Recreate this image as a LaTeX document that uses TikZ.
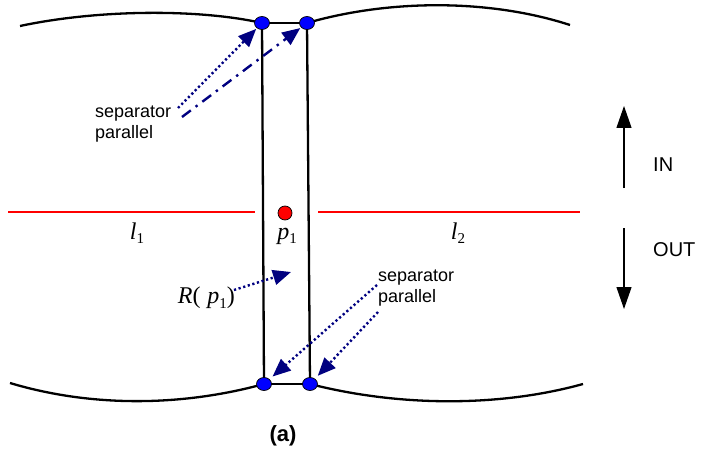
\documentclass[tikz,border=0pt]{standalone}
\usepackage{fontspec}
\setmainfont{Liberation Sans}
\newfontfamily\tnr{Liberation Serif}
\usetikzlibrary{arrows.meta,shapes.geometric}
\newcommand{\mvar}[2]{{\tnr\itshape #1}\raisebox{-0.35ex}{\tnr\fontsize{15}{15}\selectfont #2}}
\begin{document}
\begin{tikzpicture}[x=1pt,y=-1pt,
  edge/.style={line width=2.3pt,black},
  redline/.style={line width=2.3pt,red},
  bdot/.style={ellipse,draw=black,line width=0.7pt,fill=blue,minimum width=15pt,minimum height=13pt,inner sep=0pt},
  rdot/.style={circle,draw=black,line width=0.7pt,fill=red,minimum size=14pt,inner sep=0pt},
  navyarrow/.style={navy,line width=2.4pt,-{Triangle[length=18pt,width=15pt]}},
  dotline/.style={navyarrow,dash pattern=on 2.2pt off 2.6pt},
  dashdotline/.style={navyarrow,dash pattern=on 11pt off 6pt on 2.4pt off 6pt},
  lbl/.style={font=\fontsize{18}{21}\selectfont,align=left,inner sep=0pt},
  mlbl/.style={font=\fontsize{24}{26}\selectfont,inner sep=0pt},
  dirarrow/.style={black,line width=1.2pt,-{Triangle[length=22pt,width=15pt]}}
]
\definecolor{navy}{RGB}{0,0,128}
\useasboundingbox (0,0) rectangle (706,449);

% dot positions
\coordinate (tl) at (262,23);
\coordinate (tr) at (307,23);
\coordinate (bl) at (264,384);
\coordinate (br) at (310,384);

% boundary curves
\draw[edge] (20,26) .. controls (100,9) and (200,9) .. (tl);
\draw[edge] (tr) .. controls (390,-1) and (490,-1) .. (570,25);
\draw[edge] (10,383) .. controls (90,407) and (180,407) .. (bl);
\draw[edge] (br) .. controls (400,407) and (500,407) .. (583,384);

% rectangle
\draw[edge] (tl) -- (tr);
\draw[edge] (bl) -- (br);
\draw[edge] (tl) -- (bl);
\draw[edge] (tr) -- (br);

% red lines
\draw[redline] (8,212) -- (255,212);
\draw[redline] (318,212) -- (580,212);

% dots
\node[bdot] (tlD) at (tl) {};
\node[bdot] (trD) at (tr) {};
\node[bdot] (blD) at (bl) {};
\node[bdot] (brD) at (br) {};
\node[rdot] (p1dot) at (285,213) {};

% labels
\node[mlbl] (l1) at (137,233) {\mvar{l}{1}};
\node[mlbl] (l2) at (458,233) {\mvar{l}{2}};
\node[mlbl] (p1) at (287,236) {\mvar{p}{1}};
\node[mlbl,anchor=east] (Rp) at (235,298) {{\tnr\itshape R}{\tnr(} \mvar{p}{1}{\tnr)}};

\node[lbl,anchor=north west] (sepA) at (95,106) {separator\\parallel};
\node[lbl,anchor=north west] (sepB) at (378,270) {separator\\parallel};

\node[font=\fontsize{20}{22}\selectfont,anchor=west,inner sep=0pt] (in) at (653,165) {IN};
\node[font=\fontsize{20}{22}\selectfont,anchor=west,inner sep=0pt] (out) at (653,250) {OUT};
\node[font=\bfseries\fontsize{22}{24}\selectfont,inner sep=0pt] (a) at (283,436) {(a)};

% connector anchors
\coordinate (sA1) at (178,108);
\coordinate (sA2) at (182,117);
\coordinate (sB1) at (377,285);
\coordinate (sB2) at (378,312);
\coordinate (rs) at (234,290);
\coordinate (rt) at (291,272);
\coordinate (inS) at (624,188);
\coordinate (inT) at (624,106);
\coordinate (outS) at (624,228);
\coordinate (outT) at (624,309);

% arrows
\draw[dotline,shorten >=1pt] (sA1) -- (tlD);
\draw[dashdotline,shorten >=1pt] (sA2) -- (trD);
\draw[dotline] (rs) -- (rt);
\draw[dotline,shorten >=4pt] (sB1) -- (blD);
\draw[dotline,shorten >=4pt] (sB2) -- (brD);

\draw[dirarrow] (inS) -- (inT);
\draw[dirarrow] (outS) -- (outT);
\end{tikzpicture}
\end{document}
